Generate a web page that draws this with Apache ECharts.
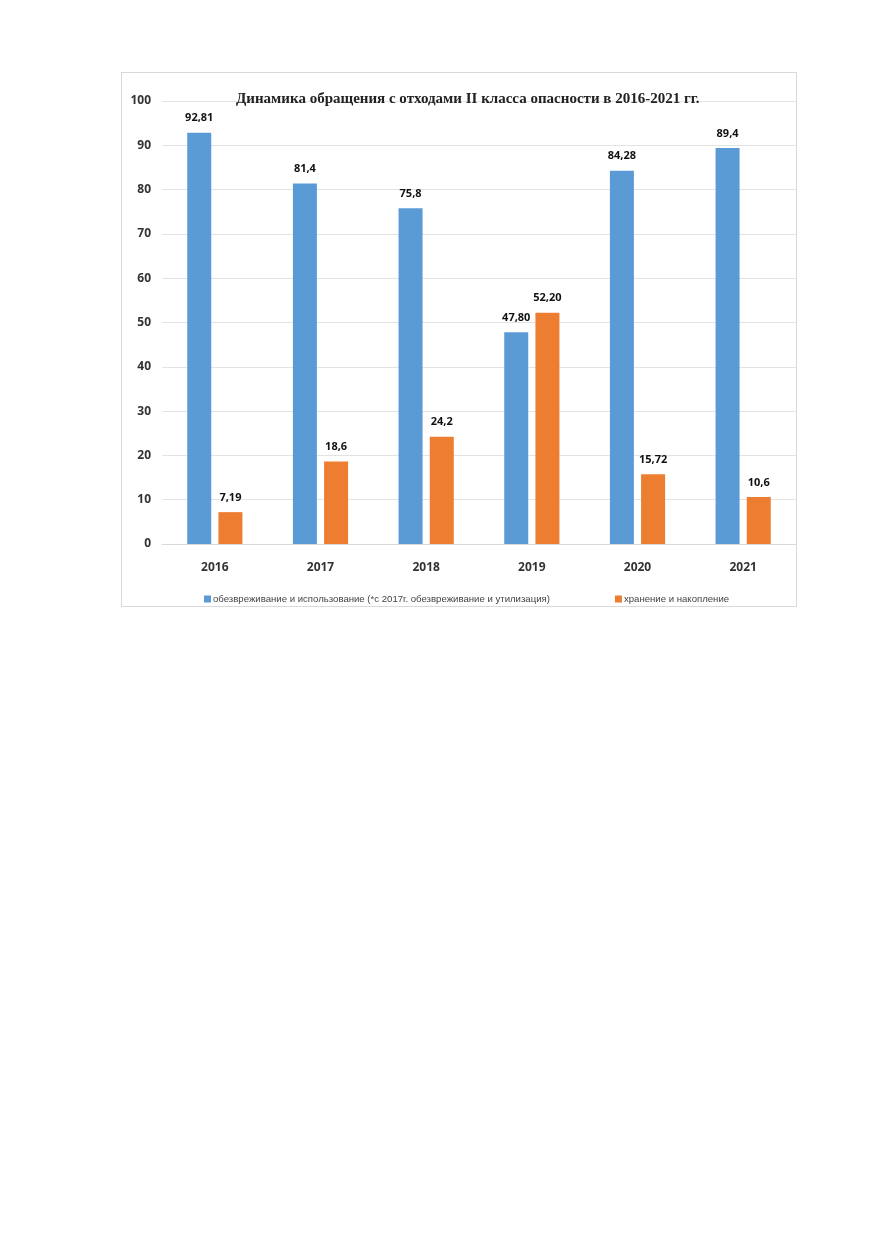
<!DOCTYPE html>
<html>
<head>
<meta charset="utf-8">
<script src="https://cdn.jsdelivr.net/npm/echarts@6/dist/echarts.min.js"></script>
<style>
  html, body { margin: 0; padding: 0; background: #fff; }
  #frame {
    position: absolute; left: 121px; top: 72px;
    width: 674px; height: 533px;
    border: 1px solid #d9d9d9; overflow: hidden;
  }
  #chart { width: 674px; height: 533px; }
</style>
</head>
<body>
<div id="frame"><div id="chart"></div></div>
<script>
// годы
var years = ['2016', '2017', '2018', '2019', '2020', '2021'];
// обезвреживание и использование
var usedValues = [92.81, 81.4, 75.8, 47.80, 84.28, 89.4];
var usedLabels = ['92,81', '81,4', '75,8', '47,80', '84,28', '89,4'];
// хранение и накопление
var storedValues = [7.19, 18.6, 24.2, 52.20, 15.72, 10.6];
var storedLabels = ['7,19', '18,6', '24,2', '52,20', '15,72', '10,6'];
var yTicks = { min: 0, max: 100, interval: 10 };

var myChart = echarts.init(document.getElementById('chart'));

var labelStyle = {
    show: true,
    position: 'top',
    distance: 9,
    fontFamily: 'Open Sans',
    fontWeight: 'bold',
    fontSize: 11,
    color: '#111'
};

myChart.setOption({
    animation: false,
    title: {
        text: 'Динамика обращения с отходами II класса опасности в 2016-2021 гг.',
        left: 109,
        top: 14,
        textStyle: {
            fontFamily: 'Liberation Serif',
            fontWeight: 'bold',
            fontSize: 15,
            color: '#222'
        }
    },
    legend: {
        left: 77,
        top: 516,
        itemWidth: 7,
        itemHeight: 7,
        itemGap: 65,
        icon: 'rect',
        textStyle: {
            fontFamily: 'Liberation Sans',
            fontSize: 9.6,
            color: '#444',
            padding: [0, 0, 0, -3]
        },
        data: [
            'обезвреживание и использование (*с 2017г. обезвреживание и утилизация)',
            'хранение и накопление'
        ]
    },
    grid: {
        left: 40,
        right: 0,
        top: 28,
        bottom: 62
    },
    xAxis: {
        type: 'category',
        data: years,
        axisTick: { show: false },
        axisLine: { lineStyle: { color: '#d9d9d9' } },
        axisLabel: {
            margin: 18,
            fontFamily: 'Open Sans',
            fontWeight: 'bold',
            fontSize: 12,
            color: '#333'
        }
    },
    yAxis: {
        type: 'value',
        min: yTicks.min,
        max: yTicks.max,
        interval: yTicks.interval,
        axisLine: { show: false },
        axisTick: { show: false },
        splitLine: { lineStyle: { color: '#e3e3e3' } },
        axisLabel: {
            margin: 11,
            fontFamily: 'Open Sans',
            fontWeight: 'bold',
            fontSize: 12,
            color: '#333'
        }
    },
    series: [
        {
            name: 'обезвреживание и использование (*с 2017г. обезвреживание и утилизация)',
            type: 'bar',
            data: usedValues,
            barWidth: 24,
            barGap: '30%',
            itemStyle: { color: '#5b9bd5' },
            label: Object.assign({}, labelStyle, {
                formatter: function (p) { return usedLabels[p.dataIndex]; }
            })
        },
        {
            name: 'хранение и накопление',
            type: 'bar',
            data: storedValues,
            barWidth: 24,
            itemStyle: { color: '#ed7d31' },
            label: Object.assign({}, labelStyle, {
                formatter: function (p) { return storedLabels[p.dataIndex]; }
            })
        }
    ]
});
</script>
</body>
</html>
